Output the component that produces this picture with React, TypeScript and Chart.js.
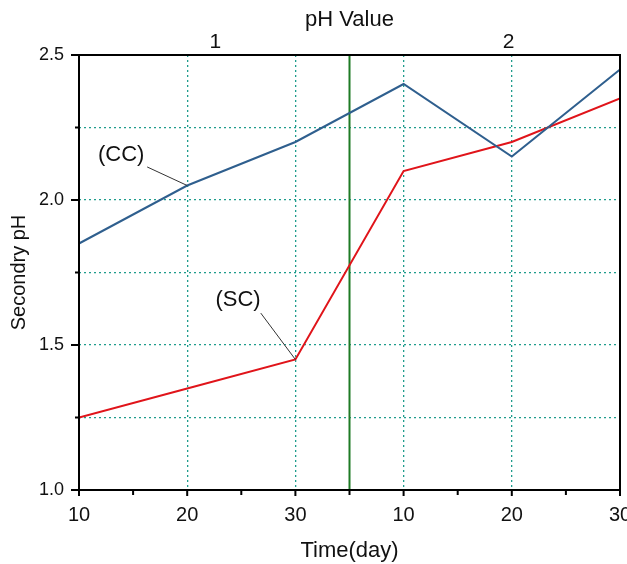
import React, { useEffect, useRef } from 'react';
import { Chart, registerables } from 'chart.js';

Chart.register(...registerables);

// ---- data ----
const dayLabels = ['10', '20', '30', '10', '20', '30'];
const xPositions = [0, 1, 2, 3, 4, 5];
const ccValues = [1.85, 2.05, 2.2, 2.4, 2.15, 2.45];
const scValues = [1.25, 1.35, 1.45, 2.1, 2.2, 2.35];
const phGroupLabels = ['1', '2'];
const phGroupPositions = [1.26, 3.97];
const dividerX = [2.5, 2.5];
const dividerY = [1.0, 2.5];
const yMajorTicks = [1.0, 1.5, 2.0, 2.5];
const yMinorTicks = [1.25, 1.75, 2.25];
const xMinorTicks = [0.5, 1.5, 2.5, 3.5, 4.5];
const noteTexts = ['(CC)', '(SC)'];
const noteLabelX = [0.39, 1.47];
const noteLabelY = [2.155, 1.655];
const noteLeadX = [0.63, 1.68];
const noteLeadY = [2.114, 1.61];
const notePointIndex = [1, 2];

const FONT = '"Liberation Sans", Arial, sans-serif';
const GRID = '#1e9c8c';
const BLUE = '#2f5f8e';
const RED = '#e0141a';
const GREEN = '#1e7b25';

const framePlugin = {
  id: 'frameTicks',
  afterDraw(chart: any) {
    const { ctx, chartArea: a, scales } = chart;
    const x = scales.x;
    const y = scales.y;
    ctx.save();
    ctx.strokeStyle = '#000';
    ctx.lineWidth = 2;
    ctx.setLineDash([]);
    ctx.strokeRect(a.left, a.top, a.right - a.left, a.bottom - a.top);
    ctx.beginPath();
    yMajorTicks.forEach((v) => {
      const p = y.getPixelForValue(v);
      ctx.moveTo(a.left - 8, p);
      ctx.lineTo(a.left, p);
    });
    yMinorTicks.forEach((v) => {
      const p = y.getPixelForValue(v);
      ctx.moveTo(a.left - 4, p);
      ctx.lineTo(a.left, p);
    });
    xPositions.forEach((v) => {
      const p = x.getPixelForValue(v);
      ctx.moveTo(p, a.bottom);
      ctx.lineTo(p, a.bottom + 6);
    });
    xMinorTicks.forEach((v) => {
      const p = x.getPixelForValue(v);
      ctx.moveTo(p, a.bottom);
      ctx.lineTo(p, a.bottom + 5);
    });
    ctx.stroke();
    ctx.restore();
  },
};

const notesPlugin = {
  id: 'notes',
  afterDatasetsDraw(chart: any) {
    const { ctx, scales } = chart;
    const x = scales.x;
    const y = scales.y;
    const series = [ccValues, scValues];
    ctx.save();
    noteTexts.forEach((t, i) => {
      const lx = x.getPixelForValue(noteLabelX[i]);
      const ly = y.getPixelForValue(noteLabelY[i]);
      const sx = x.getPixelForValue(noteLeadX[i]);
      const sy = y.getPixelForValue(noteLeadY[i]);
      const pi = notePointIndex[i];
      const ex = x.getPixelForValue(xPositions[pi]);
      const ey = y.getPixelForValue(series[i][pi]);
      ctx.strokeStyle = '#333';
      ctx.lineWidth = 1;
      ctx.beginPath();
      ctx.moveTo(sx, sy);
      ctx.lineTo(ex, ey);
      ctx.stroke();
      ctx.fillStyle = '#111';
      ctx.font = `22px ${FONT}`;
      ctx.textAlign = 'center';
      ctx.textBaseline = 'middle';
      ctx.fillText(t, lx, ly);
    });
    ctx.restore();
  },
};

function fixSize(prop: 'width' | 'height', size: number) {
  return (scale: any) => {
    scale[prop] = size;
    scale.paddingLeft = 0;
    scale.paddingRight = 0;
    scale.paddingTop = 0;
    scale.paddingBottom = 0;
  };
}

export default function App() {
  const ref = useRef<HTMLCanvasElement | null>(null);
  useEffect(() => {
    if (!ref.current) return;
    const toXY = (vals: number[]) => vals.map((v, i) => ({ x: xPositions[i], y: v }));
    const chart = new Chart(ref.current, {
      type: 'line',
      data: {
        datasets: [
          {
            label: '(CC)',
            data: toXY(ccValues),
            borderColor: BLUE,
            borderWidth: 2,
            pointRadius: 0,
            tension: 0,
            fill: false,
          },
          {
            label: '(SC)',
            data: toXY(scValues),
            borderColor: RED,
            borderWidth: 2,
            pointRadius: 0,
            tension: 0,
            fill: false,
          },
          {
            label: 'divider',
            data: dividerX.map((v, i) => ({ x: v, y: dividerY[i] })),
            borderColor: GREEN,
            borderWidth: 2,
            pointRadius: 0,
            fill: false,
          },
        ],
      },
      options: {
        responsive: true,
        maintainAspectRatio: false,
        animation: false,
        layout: { padding: { top: 0, left: 0, right: 7, bottom: 0 } },
        plugins: {
          legend: { display: false },
          tooltip: { enabled: false },
        },
        scales: {
          x: {
            type: 'linear',
            position: 'bottom',
            min: 0,
            max: 5,
            afterFit: fixSize('height', 74),
            afterBuildTicks: (scale: any) => {
              scale.ticks = xPositions.map((v) => ({ value: v }));
            },
            ticks: {
              autoSkip: false,
              maxRotation: 0,
              padding: 13,
              color: '#111',
              font: { family: FONT, size: 20 },
              callback: (_v: any, i: number) => dayLabels[i],
            },
            grid: {
              drawTicks: false,
              lineWidth: 1.3,
              color: (c: any) =>
                c.tick && c.tick.value > 0 && c.tick.value < 5 ? GRID : 'rgba(0,0,0,0)',
            } as any,
            border: { display: false, dash: [2, 3] },
            title: {
              display: true,
              text: 'Time(day)',
              color: '#111',
              font: { family: FONT, size: 22 },
              padding: { top: 2, bottom: 0 },
            },
          },
          xTop: {
            type: 'linear',
            position: 'top',
            min: 0,
            max: 5,
            afterFit: fixSize('height', 55),
            afterBuildTicks: (scale: any) => {
              scale.ticks = phGroupPositions.map((v) => ({ value: v }));
            },
            ticks: {
              autoSkip: false,
              maxRotation: 0,
              padding: 0,
              color: '#111',
              font: { family: FONT, size: 21 },
              callback: (_v: any, i: number) => phGroupLabels[i],
            },
            grid: { display: false, drawTicks: false },
            border: { display: false },
            title: {
              display: true,
              text: 'pH Value',
              color: '#111',
              font: { family: FONT, size: 22 },
              padding: { top: 7, bottom: 0 },
            },
          },
          y: {
            type: 'linear',
            position: 'left',
            min: 1.0,
            max: 2.5,
            afterFit: fixSize('width', 79),
            afterBuildTicks: (scale: any) => {
              scale.ticks = [...yMajorTicks, ...yMinorTicks]
                .sort((a, b) => a - b)
                .map((v) => ({ value: v }));
            },
            ticks: {
              padding: 15,
              color: '#111',
              font: { family: FONT, size: 18 },
              callback: (v: any) =>
                yMajorTicks.some((m) => Math.abs(m - v) < 1e-6) ? Number(v).toFixed(1) : '',
            },
            grid: {
              drawTicks: false,
              lineWidth: 1.3,
              color: (c: any) =>
                c.tick && c.tick.value > 1.0001 && c.tick.value < 2.4999 ? GRID : 'rgba(0,0,0,0)',
            } as any,
            border: { display: false, dash: [2, 3] },
            title: {
              display: true,
              text: 'Secondry pH',
              color: '#111',
              font: { family: FONT, size: 20 },
              padding: { top: 7, bottom: 0 },
            },
          },
        },
      },
      plugins: [framePlugin, notesPlugin],
    } as any);
    return () => chart.destroy();
  }, []);

  return (
    <div style={{ position: 'fixed', left: 0, top: 0, width: 627, height: 564, background: '#fff' }}>
      <canvas ref={ref} />
    </div>
  );
}
